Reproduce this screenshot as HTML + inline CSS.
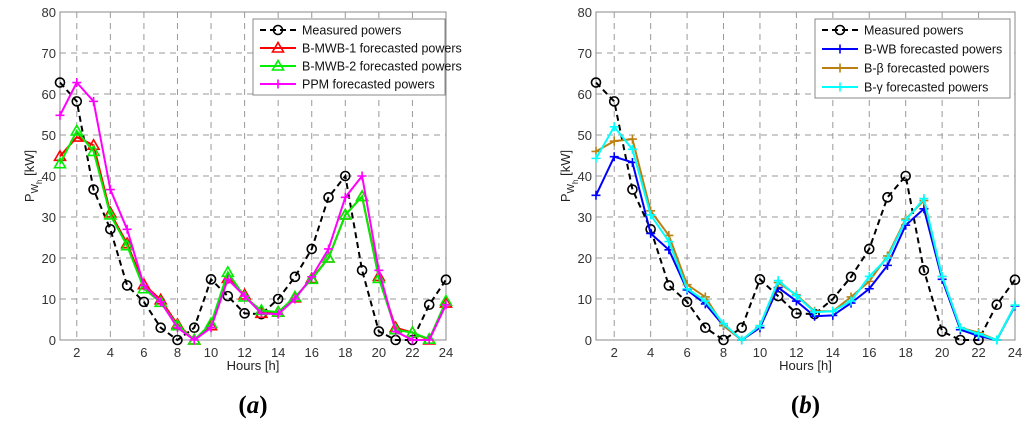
<!DOCTYPE html>
<html><head><meta charset="utf-8"><style>
body{margin:0;background:#fff;width:1024px;height:425px;overflow:hidden}
svg text{font-family:"Liberation Sans",Arial,sans-serif}
svg text.cap{font-family:"Liberation Serif","Times New Roman",serif}
</style></head><body>
<svg id="s" width="1024" height="425" xmlns="http://www.w3.org/2000/svg"></svg>
<script>
const hours=[1,2,3,4,5,6,7,8,9,10,11,12,13,14,15,16,17,18,19,20,21,22,23,24];
const measured=[62.8,58.2,36.7,27,13.3,9.3,3,0,3,14.8,10.7,6.5,6.3,10,15.4,22.2,34.8,40,17,2.1,0,0,8.6,14.7];
const bmwb1=[44.8,49.5,47.5,31,23.5,13.5,9.8,3.8,0,3.5,15,11,6.5,6.8,10.3,15,20,30.5,35,15.5,3,1.8,0,9];
const bmwb2=[43,51,46,30.5,23,12.5,9.2,3.5,0,4,16.5,10.5,7.2,6.8,10.5,14.8,20,30.5,35,15,2.5,1.8,0.2,9.5];
const ppm=[54.8,62.8,58.2,36.7,27,13.3,9.3,3,0,3,14.8,10.7,6.5,6.3,10,15.4,22.2,34.8,40,17,2.1,0,0,8.6];
const bwb=[35.3,44.7,43.3,26,22,12.2,8.8,3.5,0,3,12.8,9.5,5.8,6,9,12.5,18.2,28,32,14.8,2.5,1,0,8.3];
const bbeta=[46,48.5,49,31.5,25.5,13.5,10.5,3.5,0,3.5,14,11,7,7,10.5,14.3,20.5,29.5,34,15.5,3,1.8,0,8.5];
const bgamma=[44.3,52,46.5,30.5,24,12.5,9.5,4,0,3.5,14.5,10.8,6.8,7,9.5,15.5,20,29.2,34.5,15.5,3,1.5,0,8.5];
const yTicks=[0,10,20,30,40,50,60,70,80];
const xTicks=[2,4,6,8,10,12,14,16,18,20,22,24];
const S=document.getElementById('s');const NS='http://www.w3.org/2000/svg';
function el(t,a,p){const e=document.createElementNS(NS,t);for(const k in a)e.setAttribute(k,a[k]);(p||S).appendChild(e);return e;}
function marker(g,type,x,y,c){
 if(type==='o'){const m=el('circle',{cx:x,cy:y,r:4.5,fill:'none',stroke:c,'stroke-width':1.6},g);}
 else if(type==='^'){const m=el('polygon',{points:`${x},${y-5.5} ${x-5.5},${y+4} ${x+5.5},${y+4}`,fill:'none',stroke:c,'stroke-width':1.6},g);}
 else {const m=el('path',{d:`M${x-4.5},${y}H${x+4.5}M${x},${y-4.5}V${y+4.5}`,stroke:c,'stroke-width':1.6},g);}
}
function chart(o){
 const L=o.L,R=o.R,T=12,B=340;
 const xs=h=>L+(h-1)*(R-L)/23, ys=v=>B-v*(B-T)/80;
 const g=el('g',{});
 el('rect',{x:L,y:T,width:R-L,height:B-T,fill:'#fff',stroke:'#888','stroke-width':1},g);
 xTicks.forEach(t=>{if(t<24)el('line',{x1:xs(t),x2:xs(t),y1:T,y2:B,stroke:'#999','stroke-dasharray':'6,5','stroke-width':1},g);
  const tx=el('text',{x:xs(t),y:B+17,'text-anchor':'middle','font-size':13,fill:'#333'},g);tx.textContent=t;});
 yTicks.forEach(t=>{if(t>0&&t<80)el('line',{x1:L,x2:R,y1:ys(t),y2:ys(t),stroke:'#999','stroke-dasharray':'6,5','stroke-width':1},g);
  const tx=el('text',{x:L-4,y:ys(t)+5,'text-anchor':'end','font-size':13,fill:'#333'},g);tx.textContent=t;});
 const xl=el('text',{x:(L+R)/2,y:370,'text-anchor':'middle','font-size':13,fill:'#222'},g);xl.textContent='Hours [h]';
 const yl=el('text',{transform:`translate(${L-26},176) rotate(-90)`,'text-anchor':'middle','font-size':13,fill:'#222'},g);
 yl.innerHTML='P<tspan dy="4" font-size="10">W</tspan><tspan dy="4" font-size="8">h</tspan><tspan dy="-8"> [kW]</tspan>';
 
 const cap=el('text',{x:(L+R)/2,y:413,'text-anchor':'middle','font-size':25,'font-weight':'bold',class:'cap'},g);
 cap.innerHTML=o.cap;
 o.series.forEach(s=>{
  const p=el('polyline',{points:hours.map((h,i)=>xs(h)+','+ys(s.d[i])).join(' '),fill:'none',stroke:s.c,'stroke-width':2,'stroke-dasharray':s.dash||'none'},g);
  
  hours.forEach((h,i)=>marker(g,s.m,xs(h),ys(s.d[i]),s.c));
 });
 const lg=el('g',{},g);
 el('rect',{x:o.lx,y:19,width:o.lw,height:o.lh,fill:'#fff',stroke:'#888'},lg);
 o.series.forEach((s,i)=>{const y=30+i*o.ls;
  el('line',{x1:o.lx+7,x2:o.lx+43,y1:y,y2:y,stroke:s.c,'stroke-width':2,'stroke-dasharray':s.dash||'none'},lg);
  marker(lg,s.m,o.lx+25,y,s.c);
  const t=el('text',{x:o.lx+49,y:y+4.5,'font-size':12.5,fill:'#111'},lg);t.innerHTML=s.label;});
}
chart({name:'chart-a',L:60,R:446,cap:'(<tspan font-style="italic">a</tspan>)',lx:253,lw:192,lh:76,ls:18,series:[
 {n:'measured',d:measured,c:'#000',m:'o',dash:'6,4',label:'Measured powers'},
 {n:'b-mwb-1',d:bmwb1,c:'#ff0000',m:'^',label:'B-MWB-1 forecasted powers'},
 {n:'b-mwb-2',d:bmwb2,c:'#00ee00',m:'^',label:'B-MWB-2 forecasted powers'},
 {n:'ppm',d:ppm,c:'#ff00ff',m:'+',label:'PPM forecasted powers'}]});
chart({name:'chart-b',L:596,R:1015,cap:'(<tspan font-style="italic">b</tspan>)',lx:815,lw:195,lh:79,ls:19,series:[
 {n:'measured',d:measured,c:'#000',m:'o',dash:'6,4',label:'Measured powers'},
 {n:'b-wb',d:bwb,c:'#0000ff',m:'+',label:'B-WB forecasted powers'},
 {n:'b-beta',d:bbeta,c:'#bb8011',m:'+',label:'B-β forecasted powers'},
 {n:'b-gamma',d:bgamma,c:'#00ffff',m:'+',label:'B-γ forecasted powers'}]});
</script>
</body></html>
